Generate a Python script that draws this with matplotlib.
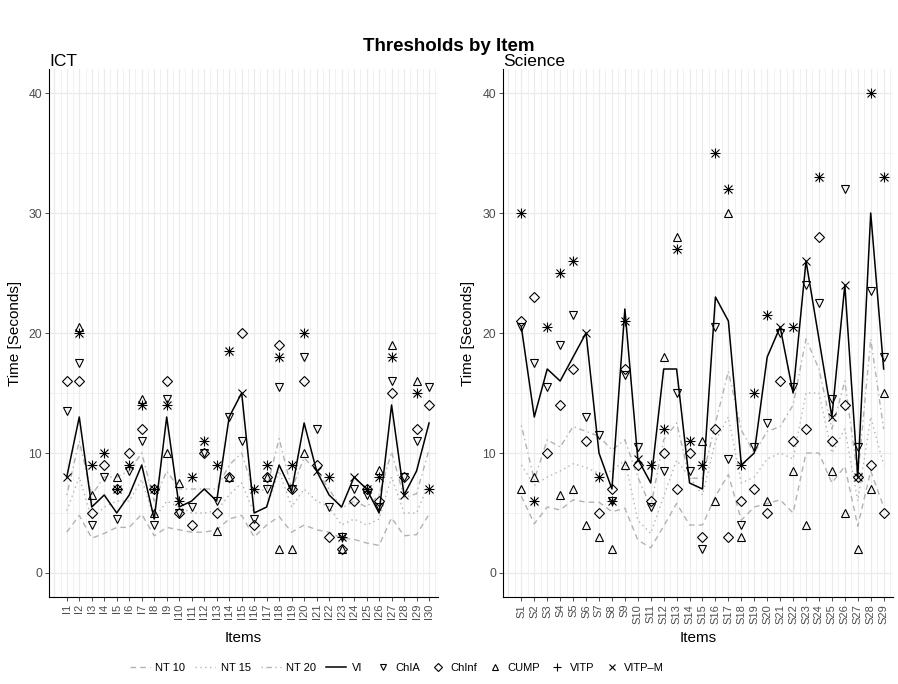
import numpy as np
import matplotlib.pyplot as plt
from matplotlib.lines import Line2D

plt.rcParams['font.family'] = ['Liberation Sans', 'DejaVu Sans']
nan = np.nan

# ICT items
ict_items = ["I" + str(i) for i in range(1, 31)]
ict_nt10 = [3.4, 4.8, 2.9, 3.3, 3.8, 3.8, 4.9, 3.1, 3.8, 3.6, 3.4, 3.4, 3.6, 4.5, 4.8,
            3.0, 4.0, 4.7, 3.4, 4.0, 3.6, 3.4, 2.9, 2.8, 2.5, 2.3, 4.6, 3.1, 3.2, 4.9]
ict_nt15 = [5.2, 8, 4.5, 5.5, 6, 6, 7.8, 4.5, 6, 5.5, 5, 5, 5.2, 6.5, 7.5,
            5, 5.5, 8.5, 5.5, 7, 6, 5.5, 4, 4.5, 4, 4.5, 8, 5, 5, 7.5]
ict_nt20 = [6.5, 11, 6.5, 8, 8, 8.5, 10, 6, 8.5, 7, 7, 7, 7, 9, 10,
            6.7, 7, 11.2, 7, 9.6, 8.5, 7, 5.4, 6, 5.5, 6.5, 10.1, 6.3, 6.6, 10.3]
ict_vi = [8, 13, 5.5, 6.5, 5, 6.5, 9, 4.5, 13, 5.5, 6, 7, 6, 13, 15,
          5, 5.5, 9, 6.8, 12.5, 8.5, 6.5, 5.5, 8, 7, 5, 14, 6.5, 8.5, 12.5]
ict_chia = [13.5, 17.5, 4, 8, 4.5, 8.5, 11, 4, 14.5, 5, 5.5, 10, 6, 13, 11,
            4.5, 7, 15.5, 7, 18, 12, 5.5, 3, 7, 6.5, 5.5, 16, 8, 11, 15.5]
ict_chinf = [16, 16, 5, 9, 7, 10, 12, 7, 16, 5, 4, 10, 5, 8, 20,
             4, 8, 19, 7, 16, 9, 3, 2, 6, 7, 6, 15, 8, 12, 14]
ict_cump = [nan, 20.5, 6.5, nan, 8, nan, 14.5, 5, 10, 7.5, nan, nan, 3.5, 8, nan,
            nan, 8, 2, 2, 10, nan, nan, 2, nan, nan, 8.6, 19, nan, 16, nan]
ict_vitp = [nan, 20, 9, 10, 7, 9, 14, 7, 14, 6, 8, 11, 9, 18.5, nan,
            7, 9, 18, 9, 20, nan, 8, 3, nan, 7, 8, 18, nan, 15, 7]
ict_vitpm = [8, 20, 9, 10, 7, 9, 14, 7, 14, 6, 8, 11, 9, 18.5, 15,
             7, 9, 18, 9, 20, 8.5, 8, 3, 8, 7, 8, 18, 6.5, 15, 7]

# Science items
sci_items = ["S" + str(i) for i in range(1, 30)]
sci_nt10 = [6.4, 4.1, 5.5, 5.25, 6.1, 5.9, 5.9, 5.1, 5.4, 2.75, 2.1, 3.9, 5.8, 4.0, 4.0,
            6.4, 8.2, 4.4, 5.5, 5.8, 6.1, 5.0, 10, 10, 7.5, 8.9, 3.9, 8.5, 5.5]
sci_nt15 = [9, 7.3, 8, 8.5, 9.1, 8.8, 8.3, 8.5, 9.4, 4.4, 3.3, 6.4, 9.4, 8, 6.5,
            11, 13, 7.5, 8, 9.5, 10, 9.5, 15, 15, 10, 12, 6, 13, 9]
sci_nt20 = [12.3, 7.75, 11.1, 10.5, 12.2, 11.8, 11.4, 10.25, 11.1, 8, 5.5, 11.1, 12.5, 7.9, 7.9,
            12.5, 16.8, 11.9, 10, 11.8, 12.2, 14, 19.5, 17, 12, 16, 8, 19.5, 12]
sci_vi = [20.5, 13, 17, 16, 18, 20, 10, 7, 22, 9.5, 7.5, 17, 17, 7.5, 7,
          23, 21, 9, 10, 18, 20.5, 15, 26, 19.5, 13, 24, 8, 30, 17]
sci_chia = [20.5, 17.5, 15.5, 19, 21.5, 13, 11.5, 6, 16.5, 10.5, 5.5, 8.5, 15, 8.5, 2,
            20.5, 9.5, 4, 10.5, 12.5, 20, 15.5, 24, 22.5, 14.5, 32, 10.5, 23.5, 18]
sci_chinf = [21, 23, 10, 14, 17, 11, 5, 7, 17, 9, 6, 10, 7, 10, 3,
             12, 3, 6, 7, 5, 16, 11, 12, 28, 11, 14, 8, 9, 5]
sci_cump = [7, 8, nan, 6.5, 7, 4, 3, 2, 9, nan, nan, 18, 28, nan, 11,
            6, 30, 3, nan, 6, nan, 8.5, 4, nan, 8.5, 5, 2, 7, 15]
sci_vitp = [30, 6, 20.5, 25, 26, nan, 8, 6, 21, nan, 9, 12, 27, 11, 9,
            35, 32, 9, 15, 21.5, nan, 20.5, nan, 33, nan, nan, nan, 40, 33]
sci_vitpm = [30, 6, 20.5, 25, 26, 20, 8, 6, 21, 9.5, 9, 12, 27, 11, 9,
             35, 32, 9, 15, 21.5, 20.5, 20.5, 26, 33, 13, 24, 8, 40, 33]

gray = '#B3B3B3'
line_styles = {'NT 10': (0, (4, 3)), 'NT 15': (0, (1, 2.5)), 'NT 20': (0, (1, 2.5, 4, 2.5))}
shapes = [('ChIA', 'v', 6), ('ChInf', 'D', 5), ('CUMP', '^', 6), ('VITP', '+', 7), ('VITP\u2013M', 'x', 6)]


def draw_panel(ax, items, nt10, nt15, nt20, vi, chia, chinf, cump, vitp, vitpm, title):
    n = len(items)
    x = np.arange(1, n + 1)
    # grid
    for g in np.arange(0, n + 1.01, 0.5):
        ax.axvline(g, color='#EBEBEB', lw=0.9 if g % 1 == 0 else 0.5, zorder=0)
    for g in [0, 10, 20, 30, 40]:
        ax.axhline(g, color='#EBEBEB', lw=0.9, zorder=0)
    for g in [5, 15, 25, 35]:
        ax.axhline(g, color='#EBEBEB', lw=0.5, zorder=0)
    ax.plot(x, nt10, color=gray, lw=1.0, linestyle=line_styles['NT 10'])
    ax.plot(x, nt15, color=gray, lw=1.0, linestyle=line_styles['NT 15'])
    ax.plot(x, nt20, color=gray, lw=1.0, linestyle=line_styles['NT 20'])
    ax.plot(x, vi, color='black', lw=1.1)
    for (name, m, s), vals in zip(shapes, [chia, chinf, cump, vitp, vitpm]):
        ax.plot(x, vals, linestyle='none', marker=m, markersize=s, mfc='none',
                mec='black', mew=0.8)
    ax.set_xlim(-0.42, n + 0.72)
    ax.set_ylim(-2, 42)
    ax.set_xticks(x)
    ax.set_xticklabels(items, rotation=90, fontsize=8, color='#4D4D4D')
    ax.set_yticks([0, 10, 20, 30, 40])
    ax.tick_params(axis='y', labelsize=8.8, labelcolor='#4D4D4D')
    ax.tick_params(length=3, width=0.6, color='#333333', pad=2)
    for sp in ['top', 'right']:
        ax.spines[sp].set_visible(False)
    for sp in ['left', 'bottom']:
        ax.spines[sp].set_color('black')
        ax.spines[sp].set_linewidth(0.8)
    ax.set_xlabel('Items', fontsize=11)
    ax.xaxis.set_label_coords(0.5, -0.064)
    ax.set_ylabel('Time [Seconds]', fontsize=11, labelpad=5)
    ax.set_title(title, loc='left', fontsize=12.5, pad=1)


fig = plt.figure(figsize=(8.98, 6.84), dpi=100)
ax1 = fig.add_axes([0.0546, 0.1272, 0.4332, 0.7719])
ax2 = fig.add_axes([0.5601, 0.1272, 0.4343, 0.7719])
draw_panel(ax1, ict_items, ict_nt10, ict_nt15, ict_nt20, ict_vi, ict_chia, ict_chinf,
           ict_cump, ict_vitp, ict_vitpm, 'ICT')
draw_panel(ax2, sci_items, sci_nt10, sci_nt15, sci_nt20, sci_vi, sci_chia, sci_chinf,
           sci_cump, sci_vitp, sci_vitpm, 'Science')

fig.suptitle('Thresholds by Item', fontsize=13.5, fontweight='bold', y=0.945)

line_handles = [Line2D([], [], color=gray, lw=1.0, linestyle=line_styles[k]) for k in ['NT 10', 'NT 15', 'NT 20']]
line_handles.append(Line2D([], [], color='black', lw=1.1))
leg1 = fig.legend(line_handles, ['NT 10', 'NT 15', 'NT 20', 'VI'], loc='center',
                  bbox_to_anchor=(0.274, 0.023), ncol=4, frameon=False, fontsize=8,
                  handlelength=1.8, handletextpad=0.5, columnspacing=0.9)
shape_handles = [Line2D([], [], linestyle='none', marker=m, markersize=s * 0.8, mfc='none',
                        mec='black', mew=0.8) for name, m, s in shapes]
leg2 = fig.legend(shape_handles, [s[0] for s in shapes], loc='center',
                  bbox_to_anchor=(0.58, 0.023), ncol=5, frameon=False, fontsize=8,
                  handlelength=1.0, handletextpad=0.6, columnspacing=1.1)

fig.savefig('out.png', dpi=100)
